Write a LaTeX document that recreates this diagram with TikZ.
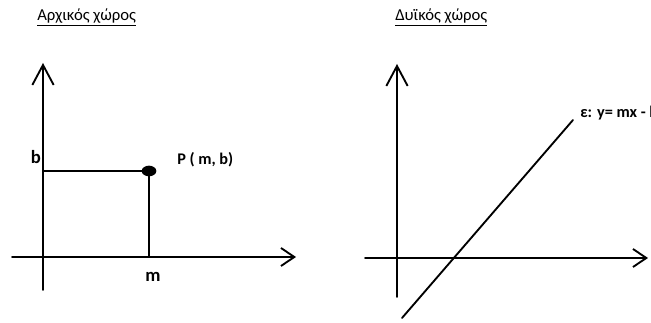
\documentclass[tikz,border=0pt]{standalone}
\usepackage{fontspec}
\setmainfont{Carlito}
\usetikzlibrary{arrows.meta,shapes.geometric}
\begin{document}
\begin{tikzpicture}[x=0.75pt,y=-0.75pt,
  axis/.style={line width=1.4pt, line cap=round},
  vaxis/.style={axis, -{Straight Barb[length=15pt,width=16pt,line width=1.4pt]}},
  haxis/.style={axis, -{Straight Barb[length=10pt,width=13.5pt,line width=1.4pt]}},
  title/.style={inner sep=0pt, font=\fontsize{12.5}{14}\selectfont},
  lbl/.style={inner sep=0pt, font=\fontsize{12.2}{14}\selectfont\bfseries},
  biglbl/.style={inner sep=0pt, font=\fontsize{14}{16}\selectfont\bfseries}]
\useasboundingbox (0,0) rectangle (651,323);
% titles
\node[title, anchor=west] (t1) at (37,17) {\underline{Αρχικός χώρος}};
\node[title, anchor=west] (t2) at (395,17) {\underline{Δυϊκός χώρος}};
% left diagram
\coordinate (ly0) at (43,290);
\coordinate (ly1) at (43,63);
\coordinate (lx0) at (12,257);
\coordinate (lx1) at (296,257);
\draw[vaxis] (ly0) -- (ly1);
\draw[haxis] (lx0) -- (lx1);
\coordinate (bpt) at (43,171);
\coordinate (mpt) at (149,257);
\node[fill=black, ellipse, minimum width=11pt, minimum height=8pt, inner sep=0pt] (P) at (149,171) {};
\draw[axis] (bpt) -- (P.center);
\draw[axis] (mpt) -- (P.center);
\node[biglbl] (bl) at (36,157) {b};
\node[biglbl] (ml) at (153,277) {m};
\node[lbl, anchor=west] (Pl) at (177,160) {P ( m, b)};
% right diagram
\coordinate (ry0) at (397,297);
\coordinate (ry1) at (397,64);
\coordinate (rx0) at (365,258);
\coordinate (rx1) at (648,258);
\draw[vaxis] (ry0) -- (ry1);
\draw[haxis] (rx0) -- (rx1);
\coordinate (e0) at (402,318);
\coordinate (e1) at (573,120);
\draw[axis] (e0) -- (e1);
\node[lbl, anchor=west] (el) at (580,113) {ε: y= mx - b};
\end{tikzpicture}
\end{document}
